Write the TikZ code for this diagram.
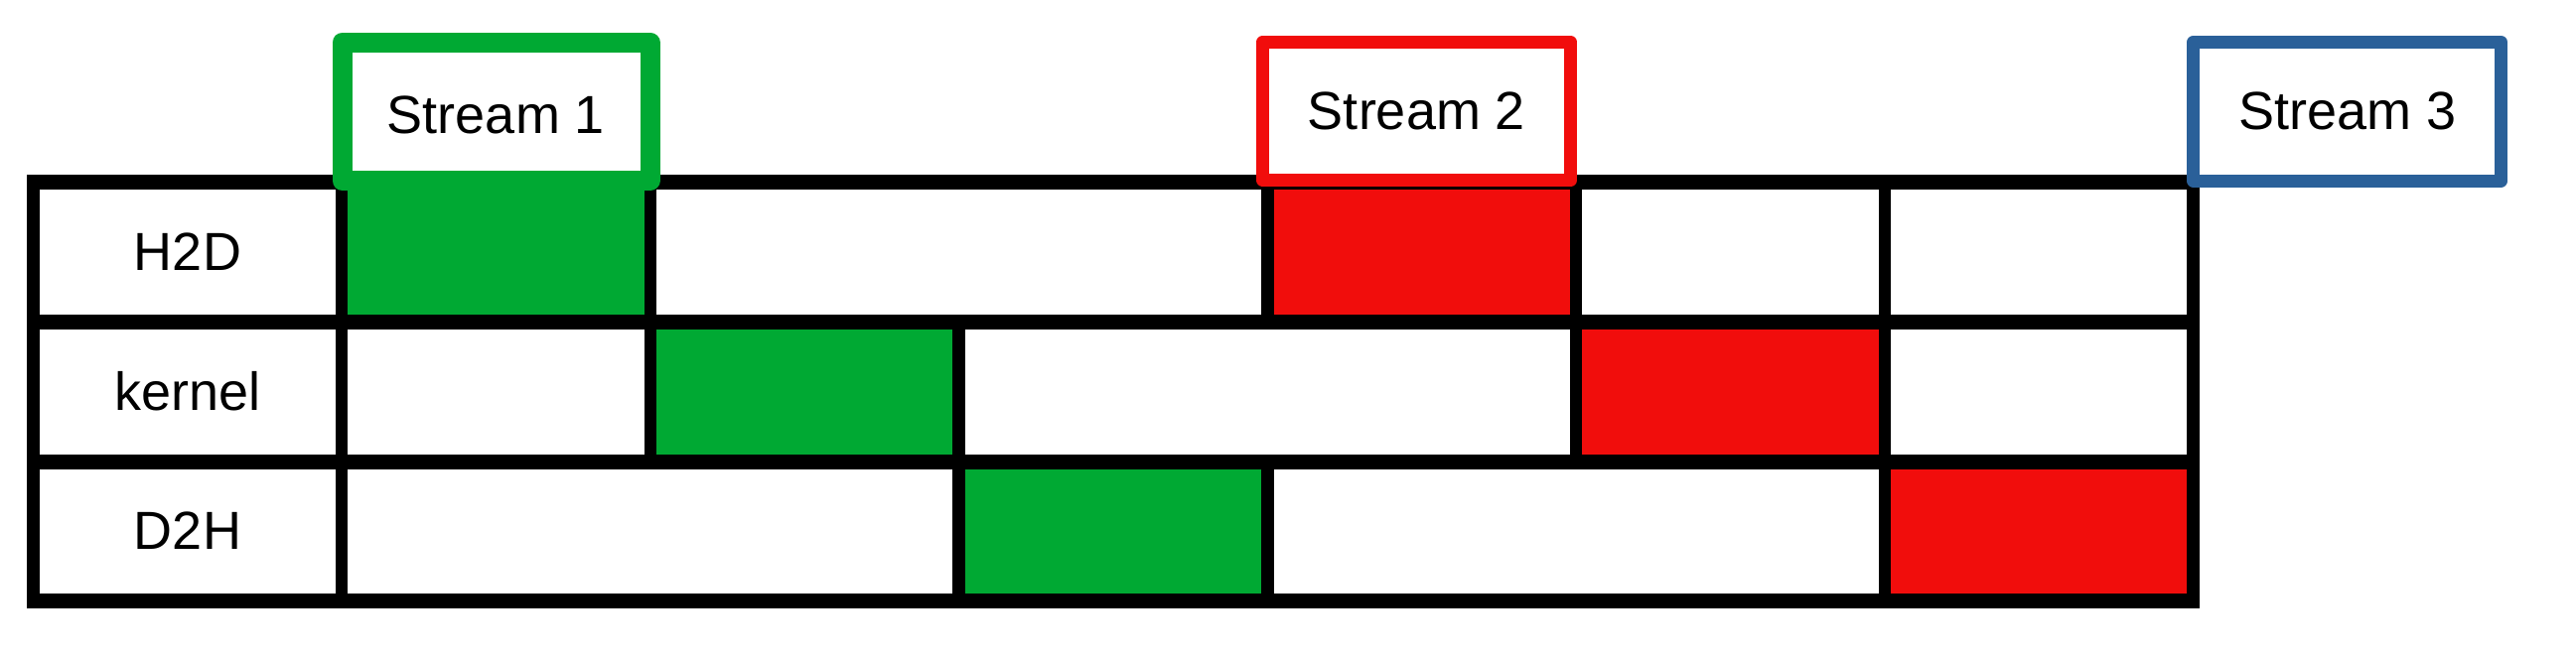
\documentclass[tikz,border=0pt]{standalone}
\usepackage{fontspec}
\setmainfont{Liberation Sans}
\definecolor{sgreen}{HTML}{00A933}
\definecolor{sred}{HTML}{F10D0C}
\definecolor{sblue}{HTML}{2A6099}
\begin{document}
\begin{tikzpicture}[x=1pt,y=-1pt,
  hline/.style={line width=15pt,black},
  vline/.style={line width=12.5pt,black},
  rowlabel/.style={font=\fontsize{54}{60}\selectfont,inner sep=0pt},
  streambox/.style={draw,fill=white,line join=round,inner sep=0pt,
    minimum width=310pt,minimum height=139.5pt,font=\fontsize{54}{60}\selectfont}]
\useasboundingbox (0,0) rectangle (2594,665);
% cell fills
\fill[sgreen] (344.2,183.5) rectangle (655,324);
\fill[sred]   (1276.4,183.5) rectangle (1587.1,324);
\fill[sgreen] (655,324) rectangle (965.6,465);
\fill[sred]   (1587.1,324) rectangle (1897.8,465);
\fill[sgreen] (965.6,465) rectangle (1276.4,605);
\fill[sred]   (1897.8,465) rectangle (2208.5,605);
% horizontal lines
\foreach \y in {183.5,324,465,605}
  \draw[hline] (27.25,\y) -- (2214.75,\y);
% vertical lines
\draw[vline] (33.5,176) -- (33.5,612.5);
\draw[vline] (2208.5,176) -- (2208.5,612.5);
\draw[vline] (344.2,176) -- (344.2,612.5);
\draw[vline] (655,176) -- (655,465);
\draw[vline] (965.6,324) -- (965.6,612.5);
\draw[vline] (1276.4,176) -- (1276.4,324);
\draw[vline] (1276.4,465) -- (1276.4,612.5);
\draw[vline] (1587.1,176) -- (1587.1,465);
\draw[vline] (1897.8,176) -- (1897.8,612.5);
% row labels
\node[rowlabel] (h2d) at (189,253.75) {H2D};
\node[rowlabel] (kernel) at (189,394.5) {kernel};
\node[rowlabel] (d2h) at (189,535) {D2H};
% stream boxes
\node[streambox,draw=sgreen,line width=20pt] (s1) at (499.5,112.25) {};
\node[rowlabel] (s1t) at (499.5,115.5) {Stream 1};
\node[streambox,draw=sred,line width=13pt] (s2) at (1426.5,112) {Stream 2};
\node[streambox,draw=sblue,line width=13pt] (s3) at (2363.6,112.3) {Stream 3};
\end{tikzpicture}
\end{document}
